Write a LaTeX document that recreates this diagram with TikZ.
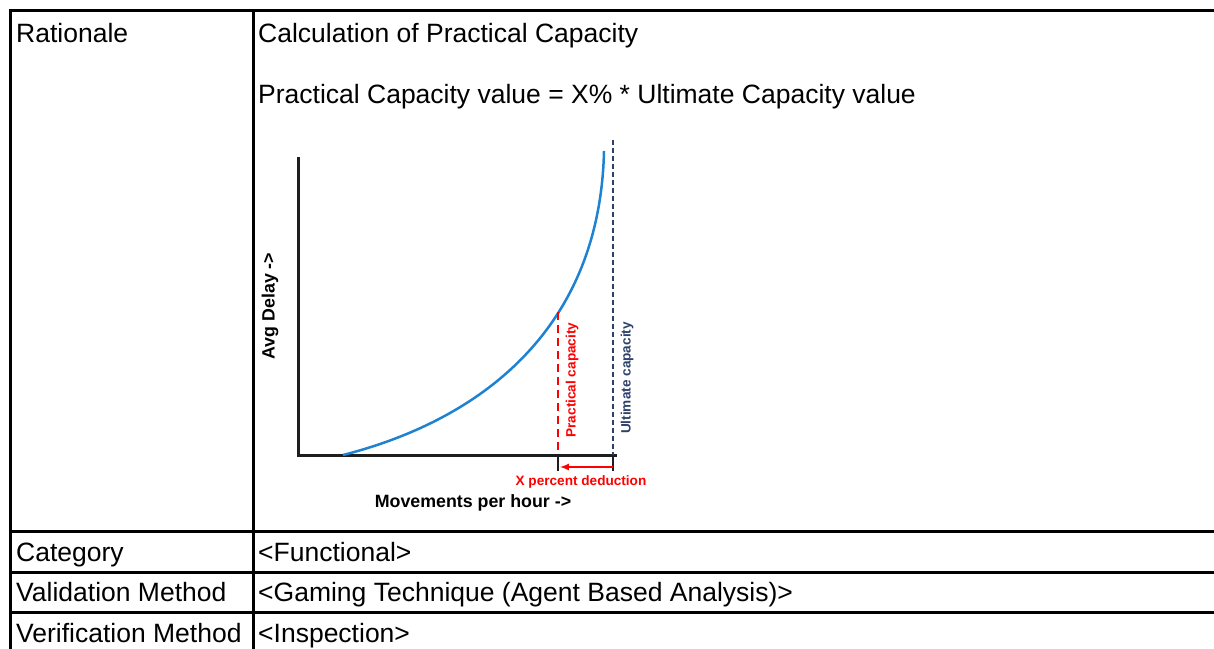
\documentclass[tikz,border=0pt]{standalone}
\usepackage{fontspec}
\setmainfont{Liberation Sans}
\usepackage{tikz}

\definecolor{curveblue}{RGB}{30,130,210}
\definecolor{ultblue}{RGB}{45,65,105}
\definecolor{axisgray}{RGB}{30,30,30}

\tikzset{
  grid line/.style={line width=3pt, line cap=rect},
  cell text/.style={anchor=base west, inner sep=0pt, font=\fontsize{26.5}{30}\selectfont},
  axis line/.style={line width=3pt, color=axisgray},
  chart label/.style={inner sep=0pt, font=\fontsize{17.8}{20}\selectfont\bfseries},
  small label/.style={inner sep=0pt, font=\fontsize{13.6}{16}\selectfont\bfseries}
}

\begin{document}
\begin{tikzpicture}[x=1pt, y=-1pt]
\useasboundingbox (0,0) rectangle (1214,648);
% table frame
\draw[grid line] (1214,10) -- (10,10) -- (10,648);
\draw[grid line] (253,10) -- (253,648);
\draw[grid line] (10,531) -- (1214,531);
\draw[grid line] (10,572) -- (1214,572);
\draw[grid line] (10,612) -- (1214,612);
% cell texts
\node[cell text] (rat) at (16,42) {Rationale};
\node[cell text] (calc) at (258,42) {Calculation of Practical Capacity};
\node[cell text] (formula) at (258,103) {Practical Capacity value = X\% * Ultimate Capacity value};
\node[cell text] (cat) at (16,561) {Category};
\node[cell text] (catv) at (258,561) {<Functional>};
\node[cell text] (val) at (16,601) {Validation Method};
\node[cell text] (valv) at (258,601) {<Gaming Technique (Agent Based Analysis)>};
\node[cell text] (ver) at (16,642) {Verification Method};
\node[cell text] (verv) at (258,642) {<Inspection>};
% chart
\coordinate (origin) at (298,455);
\coordinate (ytop) at (298,157);
\coordinate (xend) at (617,455);
\coordinate (cstart) at (343,455);
\coordinate (cend) at (604,151);
\coordinate (prac) at (558,312);
\coordinate (pracbase) at (558,455);
\coordinate (ult) at (613,140);
\coordinate (ultbase) at (613,455);
\coordinate (pracdown) at (558,471);
\coordinate (ultdown) at (613,471);
\draw[axis line] (ytop) -- (origin) -- (xend);
\draw[line width=2.5pt, curveblue] (cstart) .. controls (480,420) and (600,330) .. (cend);
\draw[line width=2.5pt, red, dash pattern=on 8pt off 5pt] (prac) -- (pracbase);
\draw[line width=2pt, ultblue, dash pattern=on 5pt off 3pt] (ult) -- (ultbase);
\draw[line width=2pt, axisgray] (pracbase) -- (pracdown);
\draw[line width=2pt, axisgray] (ultbase) -- (ultdown);
\draw[->, >=latex, line width=2pt, red] (613,467) -- (560,467);
\node[chart label, rotate=90] (avg) at (270,306) {Avg Delay ->};
\node[chart label] (mov) at (473,503) {Movements per hour ->};
\node[small label, red, rotate=90] (praclab) at (572,380) {Practical capacity};
\node[small label, ultblue, rotate=90] (ultlab) at (627,378) {Ultimate capacity};
\node[small label, red] (xded) at (581,482) {X percent deduction};
\end{tikzpicture}
\end{document}
